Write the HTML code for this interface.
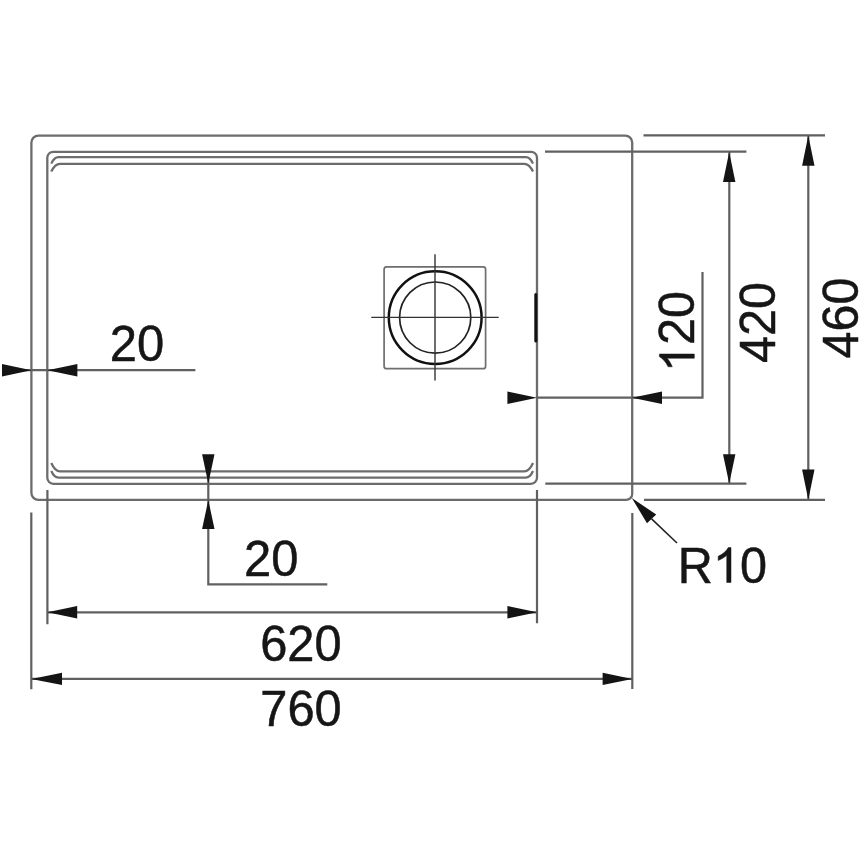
<!DOCTYPE html>
<html>
<head>
<meta charset="utf-8">
<title>Sink dimension drawing</title>
<style>
  html, body { margin: 0; padding: 0; background: #ffffff; }
  body { width: 860px; height: 860px; overflow: hidden; font-family: "Liberation Sans", sans-serif; }
  svg { display: block; filter: blur(0.6px); }
  .ln { fill: none; stroke: #6c6c6c; stroke-width: 2.3; }
  .dim { fill: none; stroke: #606060; stroke-width: 2.2; }
  .ar { fill: #141414; stroke: none; }
  text { font-family: "Liberation Sans", sans-serif; font-size: 50.2px; fill: #161616; stroke: #161616; stroke-width: 0.5; }
  .g1 { fill: #161616; stroke: #161616; stroke-width: 0.5; }
</style>
</head>
<body>
<svg width="860" height="860" viewBox="0 0 860 860">
  <rect x="0" y="0" width="860" height="860" fill="#ffffff"/>

  <!-- outer sink outline -->
  <path class="ln" d="M38.4 135.6 H625.2 A7 7 0 0 1 632.2 142.6 V493.9 A6 6 0 0 1 626.2 499.9 H38.4 A7 7 0 0 1 31.4 492.9 V142.6 A7 7 0 0 1 38.4 135.6 Z"/>
  <!-- inner bowl outline -->
  <rect class="ln" x="47.3" y="151.8" width="489.7" height="332" rx="6" ry="6"/>
  <!-- step lines top -->
  <path class="ln" d="M51.3 163.6 Q54.2 157.2 58.5 157.2 H525.8 Q530.1 157.2 533 163.6"/>
  <path class="ln" d="M51.3 171.6 Q55 163.8 60 163.8 H524.3 Q529.3 163.8 533 171.6"/>
  <!-- step lines bottom -->
  <path class="ln" d="M51.3 471 Q54.2 477.6 58.5 477.6 H525.8 Q530.1 477.6 533 471"/>
  <path class="ln" d="M51.3 463 Q55 471.4 60 471.4 H524.3 Q529.3 471.4 533 463"/>

  <!-- drain -->
  <rect x="384.1" y="266.8" width="101.5" height="101.9" rx="2.5" ry="2.5" fill="none" stroke="#6e6e6e" stroke-width="1.7"/>
  <circle cx="435.2" cy="317.6" r="46.4" fill="none" stroke="#111" stroke-width="2.5"/>
  <circle cx="435.2" cy="317.6" r="35.6" fill="none" stroke="#222" stroke-width="1.7"/>
  <path d="M435 254.3 V380.4 M371.3 317.4 H498.7" fill="none" stroke="#333" stroke-width="1.4"/>

  <!-- overflow mark -->
  <path d="M535.8 294.5 V341" fill="none" stroke="#111" stroke-width="3" stroke-linecap="round"/>

  <!-- dimension 20 (left) -->
  <path class="dim" d="M3 370.2 H195.4"/>
  <path class="ar" d="M31.4 370.2 L2.0 364.0 V376.4 Z"/>
  <path class="ar" d="M47.4 370.2 L77.4 364.0 V376.4 Z"/>
  <g transform="translate(109.7 360.5) scale(0.975 1)"><text transform="translate(0.00 0)">20</text></g>

  <!-- dimension 20 (bottom) -->
  <path class="dim" d="M208.3 455 V584.3 H327.3"/>
  <path class="ar" d="M208.3 483.4 L202.10000000000002 454.2 H214.5 Z"/>
  <path class="ar" d="M208.3 500.0 L202.10000000000002 529.0 H214.5 Z"/>
  <g transform="translate(244.0 575.6) scale(0.975 1)"><text transform="translate(0.00 0)">20</text></g>

  <!-- dimension 620 -->
  <path class="dim" d="M47.4 490 V624.2 M537 490 V623.2 M47.4 612.3 H537"/>
  <path class="ar" d="M47.4 612.3 L77.2 606.0999999999999 V618.5 Z"/>
  <path class="ar" d="M537 612.3 L507.4 606.0999999999999 V618.5 Z"/>
  <g transform="translate(260.2 660.6) scale(0.972 1)"><text transform="translate(0.00 0)">620</text></g>

  <!-- dimension 760 -->
  <path class="dim" d="M31.3 512.5 V689.3 M632.3 513 V689.1 M31.3 678.9 H632.3"/>
  <path class="ar" d="M31.3 678.9 L62.0 672.6999999999999 V685.1 Z"/>
  <path class="ar" d="M632.3 678.9 L602.5999999999999 672.6999999999999 V685.1 Z"/>
  <g transform="translate(260.3 725.8) scale(0.972 1)"><text transform="translate(0.00 0)">760</text></g>

  <!-- dimension 120 -->
  <path class="dim" d="M537 397.7 H702.5 V272"/>
  <path class="ar" d="M537 397.7 L507.4 391.5 V403.9 Z"/>
  <path class="ar" d="M632 397.7 L662 391.5 V403.9 Z"/>
  <g transform="translate(694.3 372.1) rotate(-90) scale(0.968 1)"><path class="g1" d="M 18.70 -0.00 H 14.29 V -27.18 Q 12.70 -25.71 10.11 -24.24 Q 7.53 -22.77 5.47 -22.04 V -26.16 Q 9.17 -27.84 11.94 -30.24 Q 14.71 -32.63 15.86 -34.88 H 18.70 Z"/><text transform="translate(27.92 0)">20</text></g>

  <!-- dimension 420 -->
  <path class="dim" d="M545 151.7 H746.4 M545.3 483.7 H746.4 M729.3 152 V483.5"/>
  <path class="ar" d="M729.2 151.9 L723.0 182.1 H735.4000000000001 Z"/>
  <path class="ar" d="M729.2 483.6 L723.0 454.3 H735.4000000000001 Z"/>
  <g transform="translate(775.3 363.0) rotate(-90) scale(0.968 1)"><text transform="translate(0.00 0)">420</text></g>

  <!-- dimension 460 -->
  <path class="dim" d="M643.5 135.4 H825 M644 499.8 H825 M808.3 135.5 V499.5"/>
  <path class="ar" d="M808.3 135.6 L802.0999999999999 165.79999999999998 H814.5 Z"/>
  <path class="ar" d="M808.3 499.7 L802.0999999999999 469.4 H814.5 Z"/>
  <g transform="translate(858.2 358.6) rotate(-90) scale(0.968 1)"><text transform="translate(0.00 0)">460</text></g>

  <!-- R10 leader -->
  <path d="M651.6 518.8 L677 543" fill="none" stroke="#222" stroke-width="1.6"/>
  <path class="ar" d="M631.8 498 L656.2 514.5 L647 523.2 Z"/>
  <g transform="translate(677.8 582.5) scale(0.968 1)"><text transform="translate(0.00 0)">R</text><path class="g1" d="M 54.96 -0.00 H 50.54 V -27.18 Q 48.95 -25.71 46.36 -24.24 Q 43.78 -22.77 41.72 -22.04 V -26.16 Q 45.42 -27.84 48.19 -30.24 Q 50.96 -32.63 52.11 -34.88 H 54.96 Z"/><text transform="translate(64.17 0)">0</text></g>
</svg>
</body>
</html>
